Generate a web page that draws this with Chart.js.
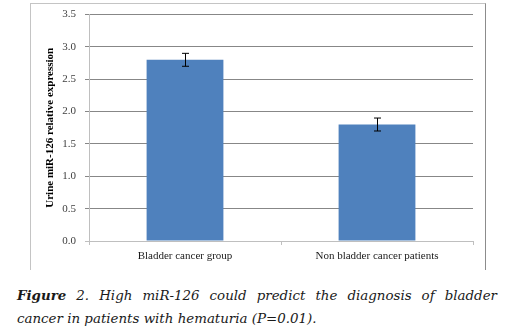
<!DOCTYPE html>
<html lang="en">
<head>
    <meta charset="UTF-8">
    <title>miR-126 expression</title>
    <style>
        body { margin: 0; background: #fff; width: 507px; height: 336px; position: relative; overflow: hidden; }
        #chart-box {
            position: absolute; left: 30px; top: 3px; width: 454px; height: 266px;
            border-left: 1px solid #c4c4c4; border-top: 1px solid #c4c4c4; border-right: 1px solid #8c8c8c;
        }
        #caption {
            position: absolute; left: 17px; top: 284px; width: 480px;
            font-family: "DejaVu Serif", serif;
            font-style: italic; font-size: 13.4px;
            line-height: 23px; color: #1a1a1a;
        }
        #caption .l1 { text-align: justify; text-align-last: justify; }
    </style>
</head>
<body>
    <div id="chart-box"><canvas id="chart" width="454" height="266"></canvas></div>
    <div id="caption">
        <div class="l1"><b>Figure</b> 2. High miR-126 could predict the diagnosis of bladder</div>
        <div>cancer in patients with hematuria (P=0.01).</div>
    </div>
    <script src="https://cdn.jsdelivr.net/npm/chart.js@4/dist/chart.umd.min.js"></script>
    <script>
        const groups = ['Bladder cancer group', 'Non bladder cancer patients'];
        const expression = [2.8, 1.8];
        const errors = [0.1, 0.1];
        const yTicks = [0, 0.5, 1.0, 1.5, 2.0, 2.5, 3.0, 3.5];

        const serif = '"Times New Roman", "Liberation Serif", serif';

        // simple +/- error bars on top of each bar
        const errorBars = {
            id: 'errorBars',
            afterDatasetsDraw(chart) {
                const ctx = chart.ctx;
                const y = chart.scales.y;
                const meta = chart.getDatasetMeta(0);
                ctx.save();
                ctx.strokeStyle = '#000';
                ctx.lineWidth = 1;
                meta.data.forEach((bar, i) => {
                    const x = Math.round(bar.x) + 0.5;
                    const top = y.getPixelForValue(expression[i] + errors[i]);
                    const bot = y.getPixelForValue(expression[i] - errors[i]);
                    ctx.beginPath();
                    ctx.moveTo(x, top); ctx.lineTo(x, bot);
                    ctx.moveTo(x - 3.5, top); ctx.lineTo(x + 3.5, top);
                    ctx.moveTo(x - 3.5, bot); ctx.lineTo(x + 3.5, bot);
                    ctx.stroke();
                });
                ctx.restore();
            }
        };

        new Chart(document.getElementById('chart'), {
            type: 'bar',
            data: {
                labels: groups,
                datasets: [{
                    data: expression,
                    backgroundColor: '#4f81bd',
                    barPercentage: 0.4,
                    categoryPercentage: 1
                }]
            },
            options: {
                responsive: false,
                animation: false,
                layout: { padding: { top: 10.5, right: 12, left: 0, bottom: 0 } },
                plugins: { legend: { display: false }, tooltip: { enabled: false } },
                scales: {
                    x: {
                        grid: { drawOnChartArea: false, color: '#bfbfbf', tickLength: 4 },
                        border: { color: '#bfbfbf' },
                        ticks: { color: '#1a1a1a', padding: 5, font: { family: serif, size: 11 } },
                        afterFit: s => { s.height = 29; }
                    },
                    y: {
                        min: 0, max: 3.5,
                        afterBuildTicks: s => { s.ticks = yTicks.map(v => ({ value: v })); },
                        grid: {
                            color: c => c.tick && c.tick.value === 0 ? '#bfbfbf' : '#878787',
                            tickLength: 4
                        },
                        border: { color: '#bfbfbf' },
                        ticks: {
                            color: '#404040', padding: 9,
                            font: { family: serif, size: 11 },
                            callback: v => v.toFixed(1)
                        },
                        title: {
                            display: true,
                            text: 'Urine miR-126 relative expression',
                            color: '#000',
                            font: { family: serif, size: 11, weight: 'bold' },
                            padding: { top: 13, bottom: 0 }
                        },
                        afterFit: s => { s.width = 58; s.paddingTop = 0; }
                    }
                }
            },
            plugins: [errorBars]
        });
    </script>
</body>
</html>
